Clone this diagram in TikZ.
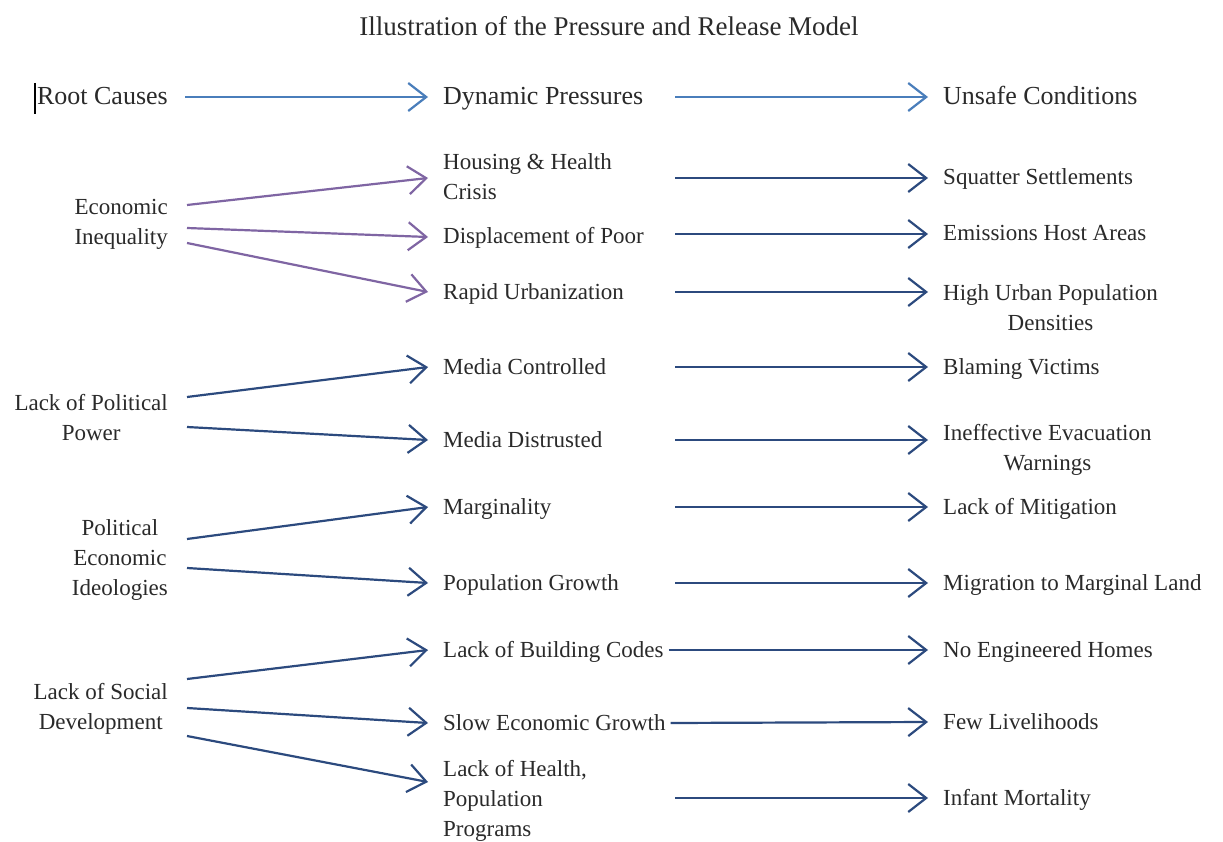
\documentclass[tikz,border=0pt]{standalone}
\usepackage{fontspec}
\setmainfont{Liberation Serif}
\usetikzlibrary{arrows.meta,calc}
\definecolor{txt}{HTML}{2A2A2A}
\definecolor{topblue}{HTML}{4A7EBB}
\definecolor{purp}{HTML}{7F65A3}
\definecolor{navy}{HTML}{2C4A7E}
\begin{document}
\begin{tikzpicture}[x=1pt,y=-1pt,
  body/.style={text=txt, font=\fontsize{23}{30}\selectfont, inner ysep=0pt, text height=20pt, text depth=6pt},
  two/.style={text height=50pt},
  three/.style={text height=80pt},
  lft/.style={body, anchor=east, inner xsep=19pt, align=center},
  mid/.style={body, anchor=west, inner xsep=15pt, align=left},
  rgt/.style={body, anchor=west, inner xsep=15pt, align=center},
  head/.style={text=txt, font=\fontsize{26}{32}\selectfont, inner ysep=0pt, text height=22pt, text depth=7pt},
  arr/.style={line width=2.2pt, -{Straight Barb[length=18pt,width=28pt]}},
  toparr/.style={arr, topblue},
  parr/.style={arr, purp},
  narr/.style={arr, navy}]
\useasboundingbox (0,0) rectangle (1223,842);
\fill[white] (0,0) rectangle (1223,842);

\node[head, font=\fontsize{27}{32}\selectfont] (title) at (609,28) {Illustration of the Pressure and Release Model};

\coordinate (c2) at (675,0);

% header row
\node[head, anchor=east, inner xsep=17pt] (rc) at (185,97) {Root Causes};
\node[head, anchor=west, inner xsep=15pt] (dp) at (428,97) {Dynamic Pressures};
\node[head, anchor=west, inner xsep=15pt] (uc) at (928,97) {Unsafe Conditions};
\draw[line width=2pt, black] ($(rc.west)+(15,-14)$) -- ($(rc.west)+(15,17)$);

% left column
\node[lft, two]   (ei)  at (187,223) {Economic\\Inequality};
\node[lft, two]   (lpp) at (187,418) {Lack of Political\\Power};
\node[lft, three] (pei) at (187,558) {Political\\Economic\\Ideologies};
\node[lft, two]   (lsd) at (187,707) {Lack of Social\\Development};

% middle column
\node[mid, two]   (hh)  at (428,178) {Housing \& Health\\Crisis};
\node[mid] (dop) at (428,237) {Displacement of Poor};
\node[mid] (ru)  at (428,292) {Rapid Urbanization};
\node[mid] (mc)  at (428,367) {Media Controlled};
\node[mid] (md)  at (428,440) {Media Distrusted};
\node[mid] (mar) at (428,507) {Marginality};
\node[mid] (pg)  at (428,583) {Population Growth};
\node[mid] (lbc) at (428,650) {Lack of Building Codes};
\node[mid] (seg) at (428,723) {Slow Economic Growth};
\node[mid, three] (lhp) at (428,799) {Lack of Health,\\Population\\Programs};

% right column
\node[rgt] (ss)  at (928,178) {Squatter Settlements};
\node[rgt] (eha) at (928,234) {Emissions Host Areas};
\node[rgt, two] (hu)  at (928,308) {High Urban Population\\Densities};
\node[rgt] (bv)  at (928,367) {Blaming Victims};
\node[rgt, two] (iew) at (928,448) {Ineffective Evacuation\\Warnings};
\node[rgt] (lom) at (928,507) {Lack of Mitigation};
\node[rgt] (mml) at (928,583) {Migration to Marginal Land};
\node[rgt] (neh) at (928,650) {No Engineered Homes};
\node[rgt] (fl)  at (928,722) {Few Livelihoods};
\node[rgt] (im)  at (928,798) {Infant Mortality};

% header arrows
\draw[toparr] (rc.east) -- (dp.west);
\draw[toparr] (c2 |- dp) -- (uc.west);

% root causes -> dynamic pressures
\draw[parr] ([yshift=18pt]ei.east) -- (hh.west);
\draw[parr] ([yshift=-5pt]ei.east) -- (dop.west);
\draw[parr] ([yshift=-20pt]ei.east) -- (ru.west);

\draw[narr] ([yshift=21pt]lpp.east) -- (mc.west);
\draw[narr] ([yshift=-9pt]lpp.east) -- (md.west);

\draw[narr] ([yshift=19pt]pei.east) -- (mar.west);
\draw[narr] ([yshift=-10pt]pei.east) -- (pg.west);

\draw[narr] ([yshift=28pt]lsd.east) -- (lbc.west);
\draw[narr] ([yshift=-1pt]lsd.east) -- (seg.west);
\draw[narr] ([yshift=-29pt]lsd.east) -- ([yshift=17pt]lhp.west);

% dynamic pressures -> unsafe conditions
\draw[narr] (c2 |- ss) -- (ss.west);
\draw[narr] (c2 |- eha) -- (eha.west);
\draw[narr] (c2 |- ru) -- (ru -| hu.west);
\draw[narr] (c2 |- bv) -- (bv.west);
\draw[narr] (c2 |- md) -- (md -| iew.west);
\draw[narr] (c2 |- lom) -- (lom.west);
\draw[narr] (c2 |- mml) -- (mml.west);
\draw[narr] ([xshift=-10pt]lbc.east) -- (neh.west);
\draw[narr] ([xshift=-10pt]seg.east) -- (fl.west);
\draw[narr] (c2 |- im) -- (im.west);
\end{tikzpicture}
\end{document}
